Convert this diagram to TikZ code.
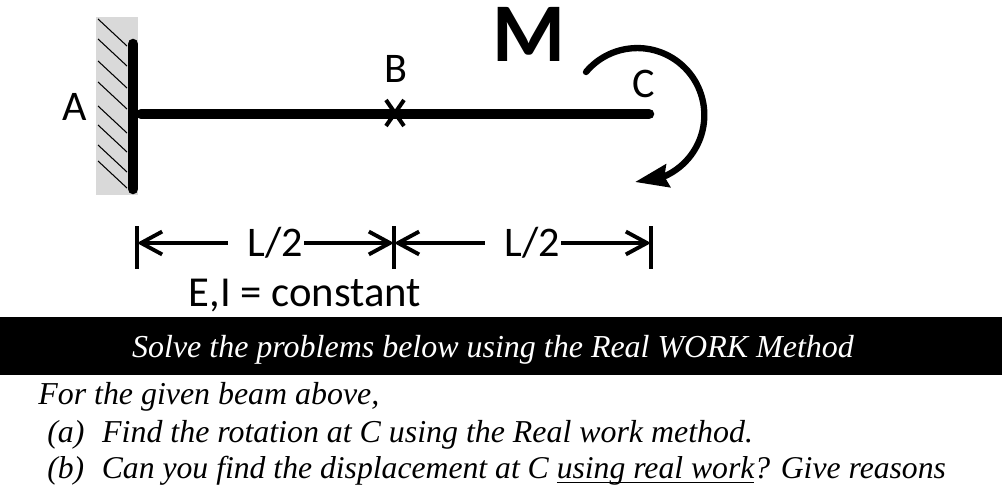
\documentclass[tikz,border=0pt]{standalone}
\usepackage{fontspec}
\setmainfont{Carlito}
\newfontfamily\timesfont{Liberation Serif}
\usetikzlibrary{arrows.meta,bending}
\newcommand{\lineunder}[1]{\leavevmode\setbox0=\hbox{#1}\rlap{\rule[-3pt]{\wd0}{0.9pt}}\box0}
\tikzset{
  beamline/.style={line width=6pt,line cap=round},
  hatchline/.style={line width=0.6pt},
  dimline/.style={line width=2.5pt,{Straight Barb[length=12pt,width=13pt,line width=2.2pt]}-},
  dimtick/.style={line width=1.8pt},
  label/.style={font=\fontsize{24}{28}\selectfont,inner sep=0pt},
  prob/.style={font=\timesfont\itshape\fontsize{18.15}{22}\selectfont,anchor=base west,inner sep=0pt},
}
\begin{document}
\begin{tikzpicture}[x=0.02cm,y=-0.02cm]
\useasboundingbox (0,0) rectangle (1002,490);
\fill[gray!30] (96,17) rectangle (138,195);
% hatching of the wall
\foreach \ya in {19,39,61,82,106,125,145,161}
  \draw[hatchline] (98,\ya) -- (127,\ya+27);
\coordinate (wallTop) at (133,44);
\coordinate (wallEnd) at (133,189);
\coordinate (beamA) at (141,114);
\coordinate (beamC) at (649,114);
\draw[beamline] (wallTop) to (wallEnd);
\draw[beamline] (beamA) to (beamC);
% cross at B
\coordinate (crossA) at (386,100);
\coordinate (crossB) at (404,126);
\coordinate (crossC) at (404,100);
\coordinate (crossD) at (386,126);
\draw[line width=2.3pt] (crossA) to (crossB);
\draw[line width=2.3pt] (crossC) to (crossD);
\node[label,anchor=base] (labelA) at (75,120) {A};
\node[label,anchor=base] (labelB) at (396,82) {B};
\node[label,anchor=base] (labelC) at (644,97) {C};
\node[font=\bfseries\fontsize{47.5}{50}\selectfont,inner sep=0pt,anchor=base] (labelM) at (529,61) {M};
% moment
\draw[line width=3.6pt,line cap=round,-{Stealth[length=19pt,width=13pt,inset=2pt,flex=1]}] (586,72) arc[start angle=220,end angle=452,radius=67];
% dimensions
\coordinate (tickA) at (137,243);
\coordinate (tickB) at (394,243);
\coordinate (tickC) at (651,243);
\coordinate (dimA) at (228,243);
\coordinate (dimB) at (304,243);
\coordinate (dimC) at (485,243);
\coordinate (dimD) at (561,243);
\draw[dimtick] (137,226) to (137,269);
\draw[dimtick] (394,226) to (394,269);
\draw[dimtick] (651,226) to (651,269);
\draw[dimline] (tickA) to (dimA);
\draw[dimline] (tickB) to (dimB);
\draw[dimline] (tickB) to (dimC);
\draw[dimline] (tickC) to (dimD);
\node[label,anchor=base] (lenA) at (275,256) {L/2};
\node[label,anchor=base] (lenB) at (532,256) {L/2};
\node[label,font=\fontsize{24.3}{28}\selectfont,anchor=base] (constant) at (305,306) {E,I = constant};
% title band
\fill[black] (0,317) rectangle (1002,375);
\node[font=\timesfont\itshape\fontsize{18.2}{22}\selectfont,text=white,inner sep=0pt,anchor=base] (title) at (493,357) {Solve the problems below using the Real WORK Method};
\node[prob] (lineA) at (38,404) {For the given beam above,};
\node[prob] (lineB) at (47,442) {(a)\ \ \hspace{1pt}Find the rotation at C using the Real work method.};
\node[prob,font=\timesfont\itshape\fontsize{18.03}{22}\selectfont] (lineC) at (47,478) {(b)\ \ \hspace{1pt}Can you find the displacement at C \lineunder{using real work}? Give reasons};
\end{tikzpicture}
\end{document}
